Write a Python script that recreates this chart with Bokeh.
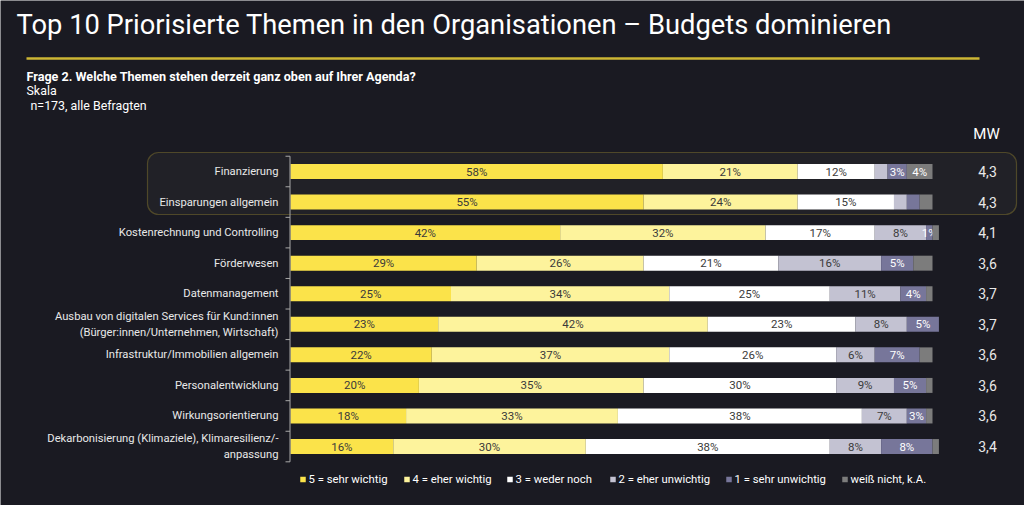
from bokeh.plotting import figure
from bokeh.models import Range1d, BoxAnnotation, ColumnDataSource
from bokeh.core.properties import value
from bokeh.embed import file_html
from bokeh.resources import INLINE

# ---- data -------------------------------------------------------------
topics = [
    "Finanzierung",
    "Einsparungen allgemein",
    "Kostenrechnung und Controlling",
    "Förderwesen",
    "Datenmanagement",
    "Ausbau von digitalen Services für Kund:innen\n(Bürger:innen/Unternehmen, Wirtschaft)",
    "Infrastruktur/Immobilien allgemein",
    "Personalentwicklung",
    "Wirkungsorientierung",
    "Dekarbonisierung (Klimaziele), Klimaresilienz/-\nanpassung",
]
sehr_wichtig = [58, 55, 42, 29, 25, 23, 22, 20, 18, 16]
eher_wichtig = [21, 24, 32, 26, 34, 42, 37, 35, 33, 30]
weder_noch = [12, 15, 17, 21, 25, 23, 26, 30, 38, 38]
eher_unwichtig = [2, 2, 8, 16, 11, 8, 6, 9, 7, 8]
sehr_unwichtig = [3, 2, 1, 5, 4, 5, 7, 5, 3, 8]
weiss_nicht = [4, 2, 1, 3, 1, 0, 2, 1, 1, 1]
mittelwert = ["4,3", "4,3", "4,1", "3,6", "3,7", "3,7", "3,6", "3,6", "3,6", "3,4"]

# segment labels as printed (empty = no label)
lbl_sehr_wichtig = ["58%", "55%", "42%", "29%", "25%", "23%", "22%", "20%", "18%", "16%"]
lbl_eher_wichtig = ["21%", "24%", "32%", "26%", "34%", "42%", "37%", "35%", "33%", "30%"]
lbl_weder_noch = ["12%", "15%", "17%", "21%", "25%", "23%", "26%", "30%", "38%", "38%"]
lbl_eher_unwichtig = ["", "", "8%", "16%", "11%", "8%", "6%", "9%", "7%", "8%"]
lbl_sehr_unwichtig = ["3%", "", "1%", "5%", "4%", "5%", "7%", "5%", "3%", "8%"]
lbl_weiss_nicht = ["4%", "", "", "", "", "", "", "", "", ""]

legend_labels = ["5 = sehr wichtig", "4 = eher wichtig", "3 = weder noch",
                 "2 = eher unwichtig", "1 = sehr unwichtig", "weiß nicht, k.A."]

# ---- styling ----------------------------------------------------------
BG = "#1a1a22"
COLORS = ["#fbe34a", "#fdf39c", "#ffffff", "#c3c2d2", "#77769a", "#7c7c7c"]
TEXT_ON = ["#3a3a3a", "#3a3a3a", "#3a3a3a", "#3a3a3a", "#ffffff", "#ffffff"]
FONT = "Roboto"

W, H = 1024, 505
X0, XS = 290.0, 6.42      # pixel of 0 %, pixels per percent
Y0, YS = 171.0, 30.56     # pixel centre of first row, row pitch


def dx(px):
    return (px - X0) / XS


def dy(py):
    return (py - Y0) / YS


p = figure(width=W, height=H, output_backend="svg", toolbar_location=None,
           x_range=Range1d(dx(0), dx(W)), y_range=Range1d(dy(H), dy(0)),
           x_axis_type=None, y_axis_type=None, min_border=0,
           background_fill_color=BG, border_fill_color=BG)
p.grid.visible = False
p.outline_line_color = None

# highlight frame around the two budget topics
p.add_layout(BoxAnnotation(left=dx(147), right=dx(1016), top=dy(152), bottom=dy(214),
                           fill_color="#212127", fill_alpha=1.0,
                           line_color="#c2ab34", line_width=1.2, border_radius=11,
                           level="underlay"))

# header
p.text(x=[dx(16)], y=[dy(24)], text=["Top 10 Priorisierte Themen in den Organisationen – Budgets dominieren"],
       text_font=value(FONT), text_font_size="27.3px", text_color="#ffffff",
       text_baseline="middle", text_align="left")
p.segment(x0=[dx(26)], x1=[dx(979)], y0=[dy(58)], y1=[dy(58)],
          line_color="#cdb634", line_width=2.5)
p.text(x=[dx(26)], y=[dy(75.5)], text=["Frage 2. Welche Themen stehen derzeit ganz oben auf Ihrer Agenda?"],
       text_font=value(FONT), text_font_style="bold", text_font_size="12.6px",
       text_color="#ffffff", text_baseline="middle")
p.text(x=[dx(26)], y=[dy(90)], text=["Skala"],
       text_font=value(FONT), text_font_size="12.4px", text_color="#ffffff",
       text_baseline="middle")
p.text(x=[dx(30)], y=[dy(105)], text=[" n=173, alle Befragten"],
       text_font=value(FONT), text_font_size="12.4px", text_color="#ffffff",
       text_baseline="middle")
p.text(x=[dx(986)], y=[dy(133)], text=["MW"], text_font=value(FONT),
       text_font_size="15px", text_color="#ffffff", text_align="center",
       text_baseline="middle")

# stacked bars
rows = list(range(len(topics)))
series = [sehr_wichtig, eher_wichtig, weder_noch, eher_unwichtig, sehr_unwichtig, weiss_nicht]
labels = [lbl_sehr_wichtig, lbl_eher_wichtig, lbl_weder_noch,
          lbl_eher_unwichtig, lbl_sehr_unwichtig, lbl_weiss_nicht]
left = [0.0] * len(topics)
for vals, lbls, col, tcol in zip(series, labels, COLORS, TEXT_ON):
    right = [l + v for l, v in zip(left, vals)]
    src = ColumnDataSource(dict(y=rows, left=left, right=right,
                                mid=[(l + r) / 2 for l, r in zip(left, right)],
                                lbl=lbls))
    p.hbar(y="y", left="left", right="right", height=0.49, source=src,
           fill_color=col, line_color=None)
    p.text(x="mid", y="y", text="lbl", source=src, text_font=value(FONT),
           text_font_size="11.5px", text_color=tcol, text_align="center",
           text_baseline="middle")
    left = right

# category axis: line, boundary ticks, labels
p.segment(x0=[dx(289.5)], x1=[dx(289.5)], y0=[-0.5], y1=[len(topics) - 0.5],
          line_color="#a8a8a8", line_width=1)
bounds = [i - 0.5 for i in range(len(topics) + 1)]
p.segment(x0=[dx(285)] * len(bounds), x1=[dx(289.5)] * len(bounds),
          y0=bounds, y1=bounds, line_color="#a8a8a8", line_width=1)
p.text(x=[dx(278)] * len(topics), y=rows, text=topics, text_font=value(FONT),
       text_font_size="11.2px", text_color="#e8e8e8", text_align="right",
       text_baseline="middle", text_line_height=1.25)

# mean values
p.text(x=[dx(987)] * len(topics), y=rows, text=mittelwert, text_font=value(FONT),
       text_font_size="14px", text_color="#e8e8e8", text_align="center",
       text_baseline="middle")

# legend
sq_px = [302.5, 406.5, 509.5, 612.5, 728.5, 844.5]
p.rect(x=[dx(px) for px in sq_px], y=[dy(479)] * 6, width=5.5 / XS, height=5.5 / YS,
       fill_color=COLORS, line_color=None)
p.text(x=[dx(px + 5.5) for px in sq_px], y=[dy(479)] * 6, text=legend_labels,
       text_font=value(FONT), text_font_size="11.3px", text_color="#ffffff",
       text_baseline="middle")

open("out.html", "w").write(file_html(p, INLINE))
